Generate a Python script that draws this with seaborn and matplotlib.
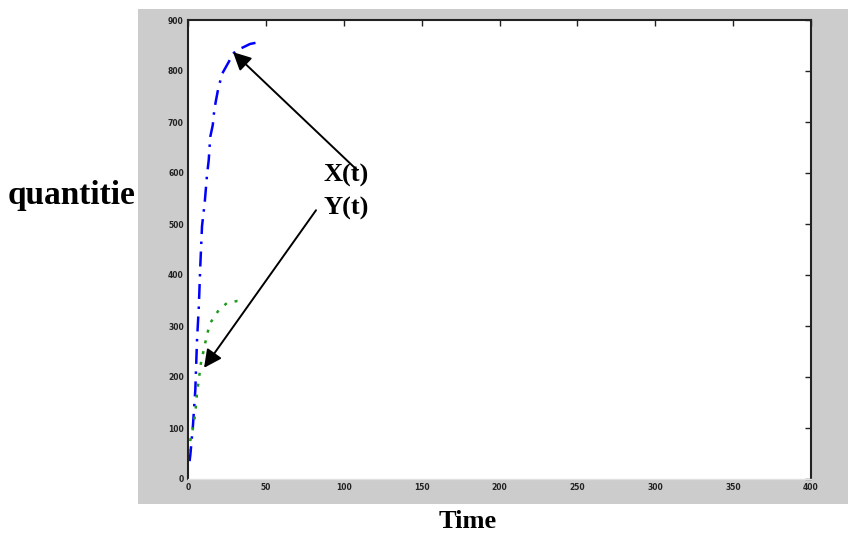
import matplotlib
matplotlib.use("Agg")
import matplotlib.pyplot as plt
import seaborn as sns
import pandas as pd

# ---- data ----
x_t = [1.0, 1.5, 3.2, 4.7, 5.8, 6.9, 7.9, 9.0, 10.7, 12.2, 13.3, 14.3, 15.9,
       16.9, 18.0, 19.5, 20.5, 21.8, 29.3, 31.5, 35.8, 39.8, 46.2]
x_vals = [35, 47, 106, 175, 273, 335, 418, 496, 541, 596, 625, 671, 694,
          724, 743, 767, 778, 794, 835, 841, 847, 853, 857]
y_t = [0.4, 1.5, 3.2, 4.7, 5.8, 6.9, 8.3, 10.1, 11.7, 13.3, 14.3, 19.7, 25.0,
       31.5, 35.3]
y_vals = [53, 76, 100, 129, 169, 194, 227, 253, 276, 296, 306, 331, 345,
          349, 349]
xticks = [0, 50, 100, 150, 200, 250, 300, 350, 400]
yticks = [0, 100, 200, 300, 400, 500, 600, 700, 800, 900]

sns.set_theme(style="white")
plt.rcParams['font.family'] = ['DejaVu Sans']

fig = plt.figure(figsize=(8.48, 5.33), dpi=100)
fig.patch.set_facecolor('white')
W, H = 848, 533

bg = fig.add_axes([138 / W, 1 - 504 / H, (848 - 138) / W, (504 - 9) / H])
bg.set_facecolor('#cccccc')
bg.set_xticks([])
bg.set_yticks([])
for s in bg.spines.values():
    s.set_visible(False)
bg.set_zorder(0)

ax = fig.add_axes([188 / W, 1 - 479 / H, (811 - 188) / W, (479 - 20) / H])
ax.set_zorder(1)
ax.set_facecolor('white')

dfx = pd.DataFrame({'t': x_t, 'v': x_vals})
dfy = pd.DataFrame({'t': y_t, 'v': y_vals})
sns.lineplot(data=dfx, x='t', y='v', ax=ax, sort=False, color='#0000ff',
             linewidth=1.8)
sns.lineplot(data=dfy, x='t', y='v', ax=ax, sort=False, color='#1f9a1f',
             linewidth=1.8)
lines = ax.get_lines()
lines[0].set_dashes([6, 3, 1, 3])
lines[1].set_dashes([1.2, 3.2])

ax.set_xlim(0, 400)
ax.set_ylim(0, 900)
ax.set_xticks(xticks)
ax.set_yticks(yticks)
ax.set_xticklabels([str(v) for v in xticks], fontsize=5.5, fontweight='bold')
ax.set_yticklabels([str(v) for v in yticks], fontsize=5.5, fontweight='bold')
ax.tick_params(direction='in', length=4, width=1, colors='#222222',
               top=True, right=True, pad=3)
ax.set_xlabel('')
ax.set_ylabel('')
for s in ['left', 'top', 'right']:
    ax.spines[s].set_color('#222222')
    ax.spines[s].set_linewidth(1.5)
ax.spines['bottom'].set_color('#e0e0e0')
ax.spines['bottom'].set_linewidth(1.0)

serif = dict(family=['Liberation Serif', 'DejaVu Serif'], fontweight='bold',
             color='black')
arrow = dict(arrowstyle='-|>,head_length=0.9,head_width=0.45', color='black',
             lw=1.4, shrinkA=0, shrinkB=0)
ax.annotate('', xy=(28.9, 837), xytext=(108.5, 606), arrowprops=arrow)
ax.annotate('', xy=(10.3, 218), xytext=(82.2, 527), arrowprops=arrow)
ax.text(101.4, 596, 'X(t)', ha='center', va='center', fontsize=19, **serif)
ax.text(101.4, 530, 'Y(t)', ha='center', va='center', fontsize=19, **serif)

fig.text(8 / W, 1 - 196 / H, 'quantitie', ha='left', va='center',
         fontsize=24, **serif)
fig.text(468 / W, 1 - 521 / H, 'Time', ha='center', va='center',
         fontsize=19, **serif)

fig.savefig('out.png', dpi=100)
